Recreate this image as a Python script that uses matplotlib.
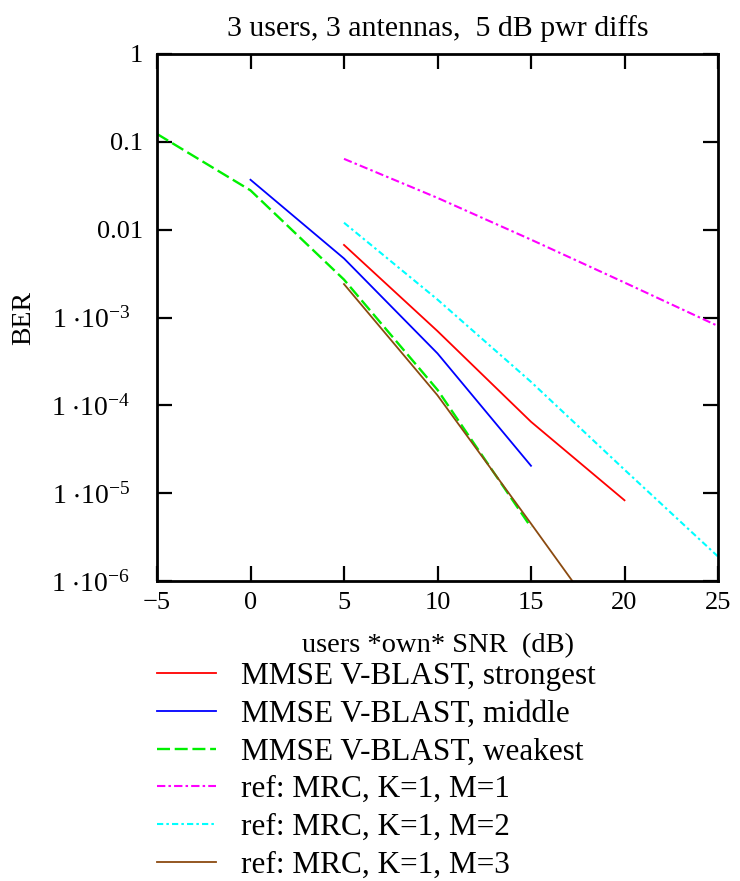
import matplotlib
matplotlib.use("Agg")
import matplotlib.pyplot as plt
from matplotlib.ticker import FixedLocator, FixedFormatter, NullLocator
from matplotlib.transforms import ScaledTranslation

# values (SNR in dB, BER)
snr_strong = [5, 10, 15, 20]
ber_strong = [6.7e-3, 7.0e-4, 6.5e-5, 8.3e-6]

snr_mid = [0, 5, 10, 15]
ber_mid = [3.7e-2, 4.7e-3, 3.9e-4, 2.05e-5]

snr_weak = [-5, 0, 5, 10, 15]
ber_weak = [0.123, 2.8e-2, 2.7e-3, 1.5e-4, 4.1e-6]

snr_ref = [5, 10, 15, 20, 25]
ber_m1 = [6.4e-2, 2.3e-2, 7.7e-3, 2.5e-3, 8.0e-4]
ber_m2 = [1.2e-2, 1.6e-3, 1.85e-4, 1.85e-5, 1.9e-6]
ber_m3 = [2.4e-3, 1.3e-4, 4.5e-6, 1.5e-7, 4.8e-9]

x_ticks = [-5, 0, 5, 10, 15, 20, 25]
y_ticks = [1, 0.1, 0.01, 1e-3, 1e-4, 1e-5, 1e-6]
y_ticklabels = ["1", "0.1", "0.01"] + [
    r"$\mathregular{1\ {\cdot}10^{-%d}}$" % k for k in (3, 4, 5, 6)]

labels = ["MMSE V-BLAST, strongest", "MMSE V-BLAST, middle", "MMSE V-BLAST, weakest",
          "ref: MRC, K=1, M=1", "ref: MRC, K=1, M=2", "ref: MRC, K=1, M=3"]

plt.rcParams["font.family"] = ["Liberation Serif", "DejaVu Serif"]
plt.rcParams["mathtext.fontset"] = "custom"
plt.rcParams["mathtext.rm"] = "Liberation Serif"
plt.rcParams["mathtext.it"] = "Liberation Serif:italic"

W, H = 740, 881
fig = plt.figure(figsize=(W / 100, H / 100), dpi=100)
ax = fig.add_axes([157 / W, 1 - 581 / H, (718 - 157) / W, (581 - 54) / H])

lw = 1.3
ax.plot(snr_strong, ber_strong, color="#ff0000", lw=lw, label=labels[0])
ax.plot(snr_mid, ber_mid, color="#0000ff", lw=lw, label=labels[1])
ax.plot(snr_weak, ber_weak, color="#00f000", lw=1.7, dashes=(5.5, 2), label=labels[2])
ax.plot(snr_ref, ber_m1, color="#ff00ff", lw=1.5, dashes=(4, 1.5, 1.2, 1.5), label=labels[3])
ax.plot(snr_ref, ber_m2, color="#00ffff", lw=1.5, dashes=(3, 1.5, 1.2, 1.5), label=labels[4])
ax.plot(snr_ref, ber_m3, color="#8b4a10", lw=lw, label=labels[5])

ax.set_yscale("log")
ax.set_xlim(-5, 25)
ax.set_ylim(1e-6, 1)

ax.xaxis.set_major_locator(FixedLocator(x_ticks))
ax.set_xticklabels([str(v).replace("-", "\u2212") for v in x_ticks])
ax.yaxis.set_major_locator(FixedLocator(y_ticks))
ax.yaxis.set_major_formatter(FixedFormatter(y_ticklabels))
ax.yaxis.set_minor_locator(NullLocator())

ax.tick_params(axis="both", which="major", direction="in", length=11, width=1.6,
               top=True, right=True, labelsize=19, color="black")
ax.tick_params(axis="x", pad=8)
ax.tick_params(axis="y", pad=10)
for sp in ax.spines.values():
    sp.set_linewidth(2.0)
    sp.set_color("black")

# power-of-ten labels sit a bit further left, as in the original
shift = ScaledTranslation(-0.13, 0, fig.dpi_scale_trans)
for tick in ax.yaxis.get_major_ticks()[3:]:
    tick.label1.set_transform(tick.label1.get_transform() + shift)
    tick.label1.set_fontsize(20)

ax.set_ylabel("BER", fontsize=20)
ax.yaxis.set_label_coords(-0.215, 0.5)
ax.set_xlabel("users *own* SNR  (dB)", fontsize=20.5, labelpad=14)
ax.set_title("3 users, 3 antennas,  5 dB pwr diffs", fontsize=21.5, pad=13)

fig.legend(loc="upper left", bbox_to_anchor=(157 / W, 1 - 662 / H), frameon=False,
           fontsize=22.5, handlelength=1.9, handletextpad=0.8, labelspacing=0.28,
           borderpad=0, borderaxespad=0)

fig.savefig("out.png", dpi=100)
